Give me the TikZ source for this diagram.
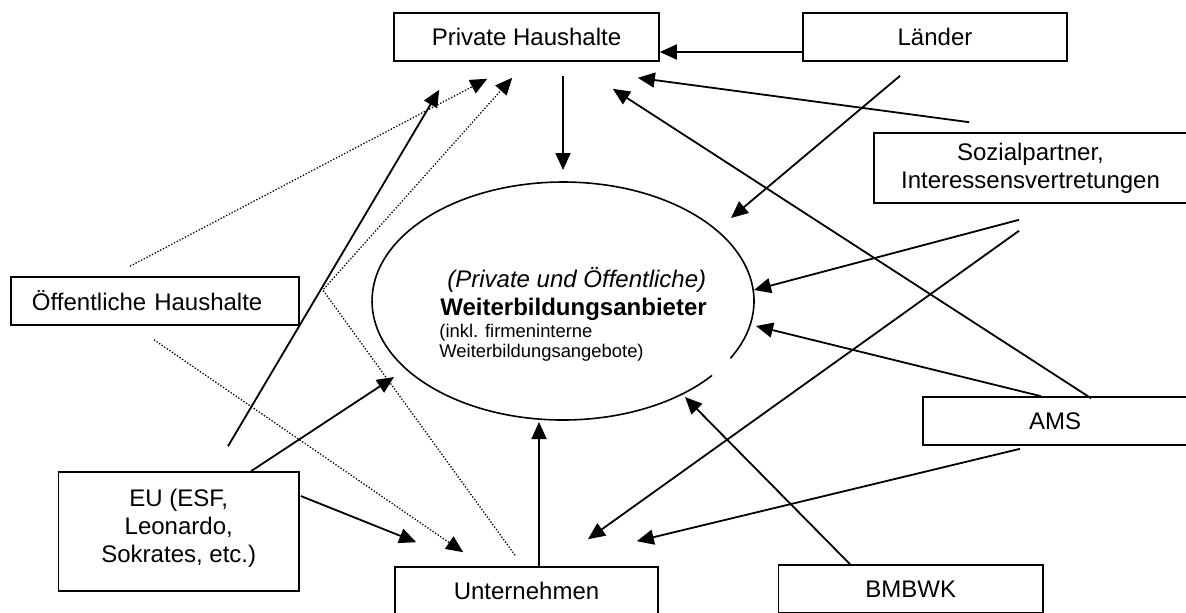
\documentclass[tikz,border=0pt]{standalone}
\usepackage{fontspec}
\setmainfont{Liberation Sans}
\usetikzlibrary{arrows.meta,shapes.geometric}

\begin{document}
\begin{tikzpicture}[x=0.5pt, y=-0.5pt,
    kasten/.style={draw, rectangle, line width=0.8pt, minimum width=132.5pt, minimum height=24pt,
      inner sep=0pt, font=\fontsize{12}{14}\selectfont},
    pfeil/.style={-{Triangle[length=8.5pt,width=7.5pt]}, line width=0.9pt},
    punkte/.style={-{Triangle[length=8.5pt,width=7.5pt]}, line width=0.65pt, dash pattern=on 0.65pt off 0.9pt}]
  \useasboundingbox (0,0) rectangle (1186,612);
  \clip (0,0) rectangle (1186,612);

  % boxes
  \node[kasten] (ph) at (526.5,37) {Private Haushalte};
  \node[kasten, minimum width=132pt] (laender) at (935,37) {Länder};
  \node[kasten, minimum width=156.5pt, minimum height=35pt, align=center] (sozial) at (1030.5,168)
    {Sozialpartner,\\Interessensvertretungen};
  \node[kasten, minimum width=144pt, text width=123pt, inner xsep=10.5pt, align=left] (oeff) at (155,301)
    {Öffentliche Haushalte};
  \node[kasten, minimum width=132pt] (ams) at (1055,421) {AMS};
  \node[kasten, minimum width=120.25pt, minimum height=59.5pt, align=center, text depth=6pt] (eu)
    at (178.75,531.5) {EU (ESF,\\Leonardo,\\Sokrates, etc.)};
  \node[kasten, minimum width=131.5pt] (unt) at (526.5,591) {Unternehmen};
  \node[kasten, minimum width=132.25pt] (bmbwk) at (910.75,589) {BMBWK};

  % Weiterbildungsanbieter (ellipse with a gap)
  \node[ellipse, minimum width=191pt, minimum height=119pt, inner sep=0pt, outer sep=0pt] (anb) at (563,301) {};
  \draw[line width=0.8pt] ([shift={(149.06,74.4)}]anb.center)
    arc[start angle=38.7, end angle=388.8, x radius=191, y radius=119];
  \node[anchor=base west, inner sep=0pt, font=\fontsize{12}{14}\selectfont\itshape] (anbtitel)
    at ([shift={(-116,-14)}]anb.center) {(Private und Öffentliche)};
  \node[anchor=base west, inner sep=0pt, font=\fontsize{12}{14}\selectfont\bfseries] (anbname)
    at ([shift={(-123,14)}]anb.center) {Weiterbildungsanbieter};
  \node[anchor=base west, inner sep=0pt, font=\fontsize{9.2}{11}\selectfont] (anbnote)
    at ([shift={(-124,36)}]anb.center) {(inkl. firmeninterne};
  \node[anchor=base west, inner sep=0pt, font=\fontsize{9.2}{11}\selectfont] (anbnote2)
    at ([shift={(-124,56)}]anb.center) {Weiterbildungsangebote)};

  % flows
  \draw[pfeil] ([shift={(36.5,14)}]ph.south) -- ([shift={(0,-12)}]anb.north);
  \draw[pfeil] ([shift={(0,15)}]laender.west) -- ([shift={(0,15)}]ph.east);
  \draw[pfeil] ([shift={(96,-10)}]sozial.north west) -- ([shift={(-22,16)}]ph.south east);
  \draw[pfeil] ([shift={(36,2)}]ams.north) -- ([shift={(-47,27)}]ph.south east);
  \draw[pfeil] ([shift={(-35,14)}]laender.south) -- ([shift={(168,-83)}]anb.center);
  \draw[pfeil] ([shift={(-11.5,16)}]sozial.south) -- ([shift={(0,-11)}]anb.east);
  \draw[pfeil] ([shift={(-11.5,27)}]sozial.south) -- ([shift={(61.5,-27)}]unt.north);
  \draw[pfeil] ([shift={(-14,0)}]ams.north) -- ([shift={(2,25)}]anb.east);
  \draw[pfeil] ([shift={(-35,3)}]ams.south) -- ([shift={(-22,-25)}]unt.north east);
  \draw[pfeil] ([shift={(-60.75,0)}]bmbwk.north) -- ([shift={(122,96)}]anb.center);
  \draw[pfeil] ([shift={(12.5,0)}]unt.north) -- ([shift={(-24,2)}]anb.south);
  \draw[pfeil] ([shift={(72.25,0)}]eu.north) -- ([shift={(-169,76)}]anb.center);
  \draw[pfeil] ([shift={(1,-35.5)}]eu.east) -- ([shift={(22,-24)}]unt.north west);
  \draw[pfeil] ([shift={(49.25,-25)}]eu.north) -- ([shift={(46,28)}]ph.south west);
  \draw[punkte] ([shift={(-25,-10)}]oeff.north) -- ([shift={(94,17)}]ph.south west);
  \draw[punkte] ([shift={(-1,14)}]oeff.south) -- ([shift={(69,-14)}]unt.north west);
  \draw[punkte] ([shift={(-11.5,-11)}]unt.north) -- ([shift={(23,-11)}]oeff.east)
    -- ([shift={(119,16)}]ph.south west);
\end{tikzpicture}
\end{document}
